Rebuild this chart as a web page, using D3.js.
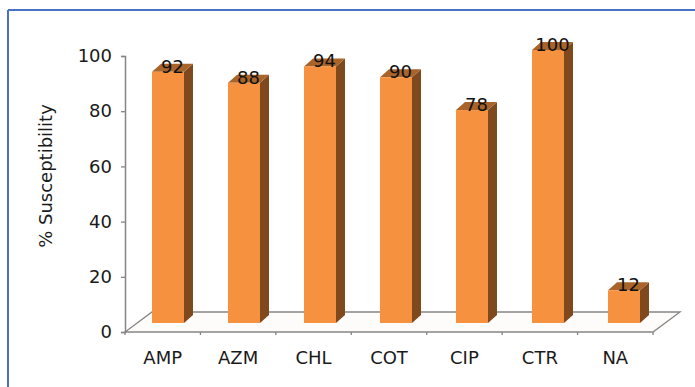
<!DOCTYPE html>
<html>
<head>
<meta charset="utf-8">
<script src="https://cdn.jsdelivr.net/npm/d3@7"></script>
<style>
  html, body { margin: 0; padding: 0; background: #fff; }
  svg { display: block; font-family: "DejaVu Sans", Verdana, sans-serif; }
</style>
</head>
<body>
<svg id="chart" width="695" height="387"></svg>
<script>
// Antibiotic susceptibility (%)
const categories = ["AMP", "AZM", "CHL", "COT", "CIP", "CTR", "NA"];
const susceptibility = [92, 88, 94, 90, 78, 100, 12];
const yTicks = [0, 20, 40, 60, 80, 100];
const yTitle = "% Susceptibility";

const svg = d3.select("#chart");

// frame: blue rule along top and left edge
svg.append("line").attr("x1", 8).attr("x2", 695).attr("y1", 10).attr("y2", 10)
  .attr("stroke", "#4a72c4").attr("stroke-width", 2);
svg.append("line").attr("x1", 8).attr("x2", 8).attr("y1", 10).attr("y2", 387)
  .attr("stroke", "#4a72c4").attr("stroke-width", 2);

// 3-D geometry: front plane axes, floor depth and bar depth
const floorDepth = { dx: 27, dy: -20 };
const barShift = { dx: 0, dy: -9 };        // bars sit part-way into the floor
const barDepth = { dx: 9, dy: -8 };
const barWidth = 32;

// front-plane scales (axes)
const x = d3.scaleBand().domain(categories).range([125, 653]);
const y = d3.scaleLinear().domain([0, 100]).range([332, 56]);
// bar-plane scales
const xb = d3.scaleBand().domain(categories).range([130, 662]);
const yb = d3.scaleLinear().domain([0, 100]).range([332 + barShift.dy, 50]);

const grey = "#858585";

// floor
const x0 = x.range()[0], x1 = x.range()[1], y0 = y(0);
svg.append("path")
  .attr("d", `M${x0},${y0}L${x1},${y0}L${x1 + floorDepth.dx},${y0 + floorDepth.dy}L${x0 + floorDepth.dx},${y0 + floorDepth.dy}Z`)
  .attr("fill", "#fdfcfa").attr("stroke", grey).attr("stroke-width", 1.3);

// y axis
const yAxis = d3.axisLeft(y).tickValues(yTicks).tickSize(4).tickPadding(9);
const gy = svg.append("g").attr("transform", `translate(${x0},0)`).call(yAxis);
gy.select(".domain").attr("stroke", grey).attr("stroke-width", 1.5);
gy.selectAll(".tick line").attr("stroke", grey).attr("stroke-width", 1.3);
gy.selectAll(".tick text").attr("fill", "#1a1a1a")
  .style("font-size", "18px").style("font-family", "DejaVu Sans, sans-serif");

// x axis: boundary ticks below the front edge, labels centred in slots
const gx = svg.append("g").attr("transform", `translate(0,${y0})`);
gx.selectAll("line.tk")
  .data(categories.concat(["__end"]))
  .join("line")
  .attr("x1", (d, i) => x0 + i * x.step())
  .attr("x2", (d, i) => x0 + i * x.step())
  .attr("y1", 0).attr("y2", 3)
  .attr("stroke", grey).attr("stroke-width", 1.3);
gx.selectAll("text")
  .data(categories)
  .join("text")
  .attr("x", d => x(d) + x.bandwidth() / 2)
  .attr("y", 32)
  .attr("text-anchor", "middle")
  .attr("fill", "#1a1a1a")
  .style("font-size", "18px")
  .text(d => d);

// bars
const data = categories.map((c, i) => ({ cat: c, val: susceptibility[i] }));
const bars = svg.append("g").selectAll("g").data(data).join("g");

bars.each(function (d) {
  const g = d3.select(this);
  const left = xb(d.cat) + xb.bandwidth() / 2 - barWidth / 2;
  const right = left + barWidth;
  const top = yb(d.val), bottom = yb(0);
  const dx = barDepth.dx, dy = barDepth.dy;
  // side face
  g.append("path")
    .attr("d", `M${right},${bottom}L${right + dx},${bottom + dy}L${right + dx},${top + dy}L${right},${top}Z`)
    .attr("fill", "#80491d");
  // top face
  g.append("path")
    .attr("d", `M${left},${top}L${left + dx},${top + dy}L${right + dx},${top + dy}L${right},${top}Z`)
    .attr("fill", "#a9642a");
  // front face
  g.append("rect")
    .attr("x", left).attr("y", top)
    .attr("width", barWidth).attr("height", bottom - top)
    .attr("fill", "#f5913f");
  // value label
  g.append("text")
    .attr("x", left + (barWidth + dx) / 2)
    .attr("y", top + 1)
    .attr("text-anchor", "middle")
    .attr("fill", "#111")
    .style("font-size", "18px")
    .text(d.val);
});

// y-axis title
svg.append("text")
  .attr("transform", `translate(52,${176}) rotate(-90)`)
  .attr("text-anchor", "middle")
  .attr("fill", "#1a1a1a")
  .style("font-size", "18px")
  .text(yTitle);
</script>
</body>
</html>
